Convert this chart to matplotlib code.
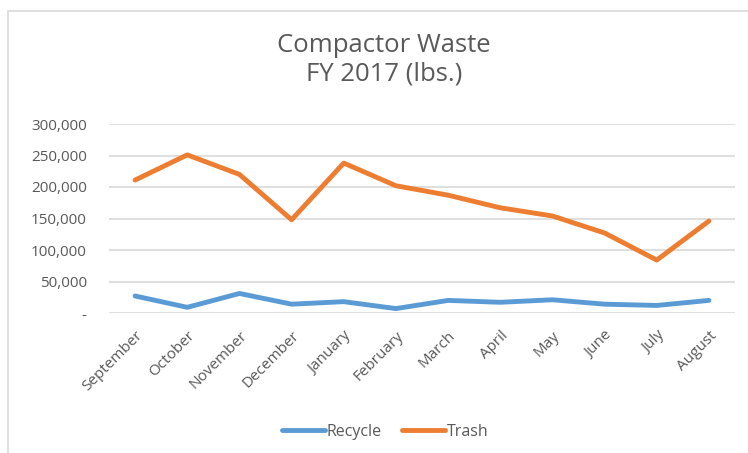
import matplotlib.pyplot as plt
from matplotlib.patches import Rectangle
from matplotlib.ticker import FuncFormatter

months = ['September', 'October', 'November', 'December', 'January', 'February',
          'March', 'April', 'May', 'June', 'July', 'August']
recycle = [27000, 9000, 31000, 14000, 18000, 7000, 20000, 17000, 21000, 14000, 12000, 20000]
trash = [211000, 251000, 220000, 148000, 238000, 202000, 187000, 167000, 154000, 127000, 84000, 146000]
y_ticks = [0, 50000, 100000, 150000, 200000, 250000, 300000]

plt.rcParams['font.family'] = ['Open Sans', 'DejaVu Sans']
text_color = '#595959'

fig = plt.figure(figsize=(7.48, 4.53), dpi=100)
ax = fig.add_axes([109 / 748, 1 - 313 / 453, (735 - 109) / 748, (313 - 124) / 453])

# chart area border (cut off at right and bottom like the source)
fig.patches.append(Rectangle((8 / 748, -0.05), 1.0, 1 - 11 / 453 + 0.05,
                             transform=fig.transFigure, fill=False,
                             edgecolor='#D9D9D9', linewidth=1.2))

x = range(len(months))
ax.plot(x, recycle, color='#5B9BD5', linewidth=3.5, solid_capstyle='round', label='Recycle')
ax.plot(x, trash, color='#ED7D31', linewidth=3.5, solid_capstyle='round', label='Trash')

ax.set_xlim(-0.5, len(months) - 0.5)
ax.set_ylim(0, 300000)
ax.set_yticks(y_ticks)
ax.yaxis.set_major_formatter(FuncFormatter(lambda v, p: '-' if v == 0 else f'{int(v):,}'))
ax.set_xticks(list(x))
ax.set_xticklabels(months, rotation=45, ha='right', rotation_mode='anchor')
ax.tick_params(axis='both', length=0, colors=text_color, labelsize=11)
ax.tick_params(axis='y', pad=16)
ax.tick_params(axis='x', pad=11)
ax.grid(axis='y', color='#D9D9D9', linewidth=1.2)
ax.set_axisbelow(True)
for s in ax.spines.values():
    s.set_visible(False)

fig.text(384 / 748, 1 - 60 / 453, 'Compactor Waste\nFY 2017 (lbs.)', ha='center', va='center',
         fontsize=18.5, color=text_color, linespacing=1.2)

fig.legend(loc='center', bbox_to_anchor=(385 / 748, 1 - 432 / 453), ncol=2, frameon=False,
           fontsize=11.5, labelcolor=text_color, handlelength=2.7, handletextpad=0.1,
           columnspacing=1.3)

fig.savefig('out.png', dpi=100)
